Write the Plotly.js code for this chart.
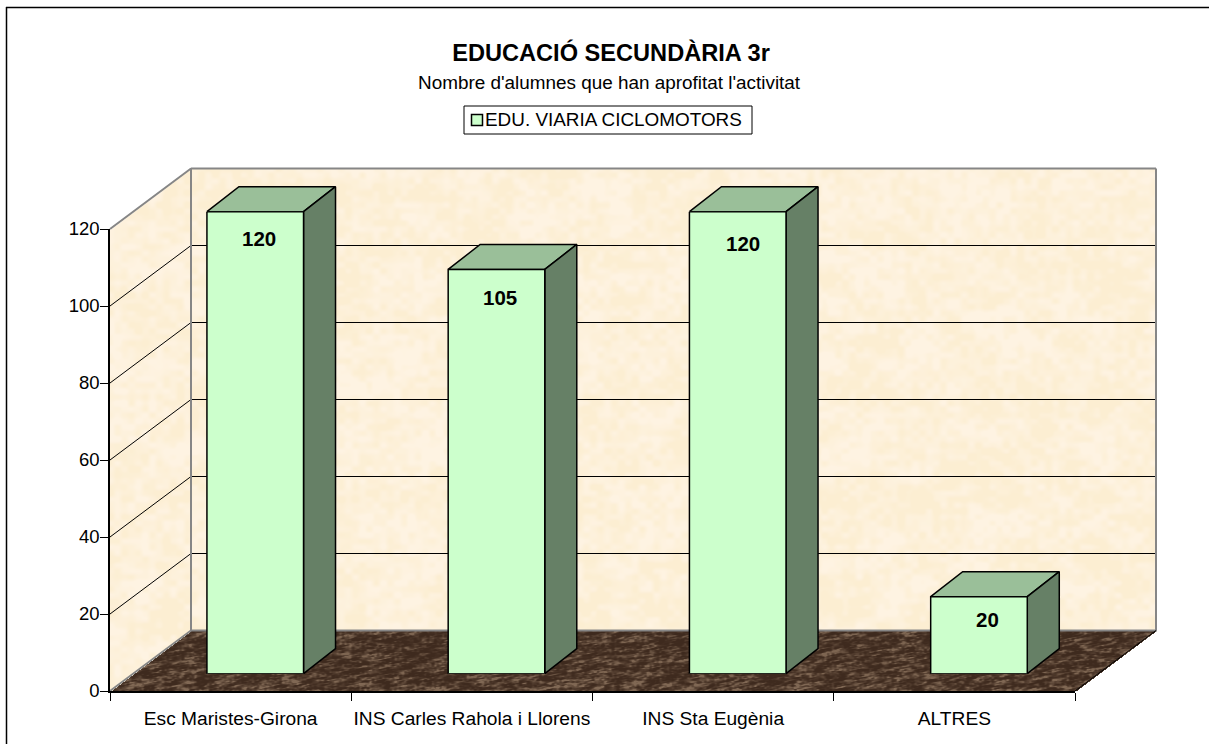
<!DOCTYPE html>
<html>
<head>
<meta charset="utf-8">
<script src="https://cdn.plot.ly/plotly-3.0.1.min.js"></script>
<style>html,body{margin:0;padding:0;background:#fff}</style>
</head>
<body>
<div id="chart" style="width:1209px;height:744px"></div>
<script>
// --- data ---
const categories = ['Esc Maristes-Girona', 'INS Carles Rahola i Llorens', 'INS Sta Eugènia', 'ALTRES'];
const alumnes = [120, 105, 120, 20];
const seriesName = 'EDU. VIARIA CICLOMOTORS';
const yTicks = [0, 20, 40, 60, 80, 100, 120];
const titleText = 'EDUCACIÓ SECUNDÀRIA 3r';
const subtitleText = "Nombre d'alumnes que han aprofitat l'activitat";

// --- geometry of the oblique 3D projection (style constants, in pixels) ---
const W = 1209, H = 744;
const L = 110, R = 1075, B = 691, T = 229;       // front plane of the axes
const depthX = 81, depthY = 60.5;                // room depth
const catPx = (R - L) / categories.length, valPx = (B - T) / 120;
const DX = depthX / catPx, DY = depthY / valPx;
const barShiftX = 24.6, barShiftY = 17.3;        // bar front face vs. front plane
const barW = 96.6, barDX = 32 / catPx, barDY = 25 / valPx; // bar depth
const barHalf = barW / 2 / catPx, shiftC = barShiftX / catPx, shiftV = barShiftY / valPx;
const dropPx = [27, 28, 32, 23], nudgePx = [4, 4, 5, 9]; // value label placement

const edge = '#868686';
const front = '#ccffcc', top_ = '#9abf99', side = '#668066';
const font = 'Liberation Sans, Arial, sans-serif';

// --- decorative surface texture of walls and floor (no data in it) ---
function hash(x, y) { const s = Math.sin(x*127.1 + y*311.7) * 43758.5453; return s - Math.floor(s); }
function vnoise(x, y) {
  const xi = Math.floor(x), yi = Math.floor(y), fx = x-xi, fy = y-yi;
  const u = fx*fx*(3-2*fx), v = fy*fy*(3-2*fy);
  const a = hash(xi,yi), b = hash(xi+1,yi), c = hash(xi,yi+1), d = hash(xi+1,yi+1);
  return a + (b-a)*u + (c-a)*v + (a-b-c+d)*u*v;
}
function mix(c1, c2, t) { return [0,1,2].map(k => c1[k] + (c2[k]-c1[k])*t); }
function makeTexture() {
  const w = R + depthX - L, h = B - (T - depthY);
  const cv = document.createElement('canvas'); cv.width = w; cv.height = h;
  const ctx = cv.getContext('2d'), im = ctx.createImageData(w, h), d = im.data;
  const kx = depthX / depthY;
  for (let py = 0; py < h; py++) {
    for (let px = 0; px < w; px++) {
      const up = h - py;                       // height above the front-left corner
      let col = null;
      if (up <= depthY) {                      // floor
        const s = up * kx;
        if (px >= s && px <= (R-L) + s) {
          const u = px + up*1.3, v = up*2.4 - px*0.5;
          const n = 0.4*vnoise(u/15, v/6) + 0.35*vnoise(u/6, v/3) + 0.25*vnoise(px/2.5, up/2);
          const t = Math.max(0, Math.min(1, (n-0.3)*2.2));
          const glow = up < 14 ? 0.35*(1-up/14) : 0;
          col = mix([62,42,30],[128,104,84], Math.min(1, t*t*0.95 + glow*t));
        }
      } else {
        const topAt = (px < depthX) ? (B-T) + px/kx : (B-T) + depthY;
        const inSide = px < depthX && up > px/kx && up <= topAt;
        const inBack = px >= depthX && up > depthY && up <= topAt;
        if (inSide || inBack) col = 1;
      }
      if (up <= depthY && col === null && px < depthX && up > px/kx) col = 1;
      if (col === 1) {                         // wall
        const n = 0.45*vnoise(px/30, py/22) + 0.55*vnoise(px/7, py/6);
        col = mix([254,243,226],[252,238,210], Math.max(0, Math.min(1, (n-0.28)*2.2)));
      }
      if (col) {
        const i = (py*w + px)*4;
        d[i] = col[0]; d[i+1] = col[1]; d[i+2] = col[2]; d[i+3] = 255;
      }
    }
  }
  ctx.putImageData(im, 0, 0);
  return {src: cv.toDataURL('image/png'), w: w, h: h};
}
const tex = makeTexture();

function poly(xs, ys, fill, extra) {
  return Object.assign({type:'scatter', mode:'lines', x:xs, y:ys, fill:'toself', fillcolor:fill,
    line:{width:0, color:fill}, hoverinfo:'skip', showlegend:false, xaxis:'x', yaxis:'y'}, extra||{});
}
function path(xs, ys, color, w) {
  return {type:'scatter', mode:'lines', x:xs, y:ys, line:{color:color, width:w},
    hoverinfo:'skip', showlegend:false, xaxis:'x', yaxis:'y', connectgaps:false};
}
const x0 = -0.5, x1 = categories.length - 0.5, yMax = yTicks[yTicks.length-1];
const traces = [];
// grid lines on the walls
const gx = [], gy = [];
yTicks.slice(1,-1).forEach(v => {
  gx.push(x0, x0+DX, x1+DX, null); gy.push(v, v+DY, v+DY, null);
});
traces.push(path(gx, gy, '#000000', 1));
// room edges
traces.push(path([x0,x0+DX,x0+DX,x1+DX,x1+DX],[yMax,yMax+DY,DY,DY,yMax+DY],edge,2));
traces.push(path([x0+DX,x1+DX],[yMax+DY,yMax+DY],edge,2));
traces.push(path([x0,x0+DX],[0,DY],edge,2));
traces.push(path([x1,x1+DX],[0,DY],'#000000',1));
// bar top and side faces
alumnes.forEach((v,i) => {
  const xl = i+shiftC-barHalf, xr = i+shiftC+barHalf, y0 = shiftV, yt = v+shiftV;
  const ln = {line:{width:1.5,color:'#000000'}};
  traces.push(poly([xl,xr,xr+barDX,xl+barDX,xl],[yt,yt,yt+barDY,yt+barDY,yt],top_,ln));
  traces.push(poly([xr,xr+barDX,xr+barDX,xr,xr],[y0,y0+barDY,yt+barDY,yt,y0],side,ln));
});
// carries the visible category axis
traces.push({type:'scatter', mode:'none', x:categories, y:alumnes, xaxis:'x2', yaxis:'y2',
  hoverinfo:'skip', showlegend:false});
// bar front faces
traces.push({type:'bar', x:categories, y:alumnes, name:seriesName, xaxis:'x3', yaxis:'y3', showlegend:false,
  marker:{color:front, line:{color:'#000000', width:1.5}}, cliponaxis:false, hoverinfo:'x+y'});

const annotations = alumnes.map((v,i) => ({
  xref:'x3', yref:'y3', x:categories[i], y:v, text:'<b>'+v+'</b>', showarrow:false,
  yanchor:'middle', xanchor:'center', xshift:nudgePx[i], yshift:-dropPx[i],
  font:{family:font, size:20.5, color:'#000'}
}));
annotations.push({xref:'paper', yref:'paper', x:609/W, y:1-82/H, xanchor:'center', yanchor:'middle',
  text:subtitleText, showarrow:false, font:{family:font, size:18.9, color:'#000'}});
// legend box
annotations.push({xref:'paper', yref:'paper', x:744/W, y:1-119.5/H, xanchor:'right', yanchor:'middle',
  text:seriesName, showarrow:false, font:{family:font, size:18.9, color:'#000'}});

const layout = {
  width:W, height:H, margin:{l:0,r:0,t:0,b:0,pad:0}, paper_bgcolor:'#fff', plot_bgcolor:'rgba(0,0,0,0)',
  font:{family:font, color:'#000'}, bargap:1-barW/catPx, hovermode:false,
  title:{text:'<b>'+titleText+'</b>', x:611/W, xanchor:'center', y:1-53/H, yanchor:'middle',
    font:{family:font, size:23.6, color:'#000'}},
  xaxis:{domain:[0,1], range:[x0 - L/catPx, x0 + (W-L)/catPx], visible:false, fixedrange:true},
  yaxis:{domain:[0,1], range:[-(H-B)/valPx, B/valPx], visible:false, fixedrange:true},
  xaxis2:{domain:[L/W,R/W], anchor:'y2', type:'category', categoryorder:'array', categoryarray:categories,
    range:[x0,x1], tickson:'boundaries', ticks:'outside', ticklen:8, tickwidth:1, tickcolor:'#000',
    tickangle:0, ticklabelstandoff:9, showline:true, linecolor:'#000', linewidth:1.5, showgrid:false, zeroline:false,
    tickfont:{family:font, size:19.2, color:'#000'}, fixedrange:true},
  yaxis2:{domain:[(H-B)/H,(H-T)/H], anchor:'x2', range:[0,yMax], tickvals:yTicks, ticks:'outside',
    ticklen:8, tickwidth:1, tickcolor:'#000', showline:true, linecolor:'#000', linewidth:1.5,
    ticklabelstandoff:-3, showgrid:false, zeroline:false, tickfont:{family:font, size:18.5, color:'#000'}, fixedrange:true},
  xaxis3:{domain:[(L+barShiftX)/W,(R+barShiftX)/W], anchor:'y3', type:'category', categoryorder:'array',
    categoryarray:categories, range:[x0,x1], visible:false, fixedrange:true},
  yaxis3:{domain:[(H-B+barShiftY)/H,(H-T+barShiftY)/H], anchor:'x3', range:[0,yMax], visible:false, fixedrange:true},
  showlegend:false,
  images:[{source:tex.src, xref:'paper', yref:'paper', x:L/W, y:1-(B-tex.h)/H, sizex:tex.w/W, sizey:tex.h/H,
    sizing:'stretch', xanchor:'left', yanchor:'top', layer:'below'}],
  shapes:[
    {type:'line', xref:'paper', yref:'paper', x0:6.5/W, x1:6.5/W, y0:0, y1:1-7/H, line:{color:'#000',width:1.5}},
    {type:'line', xref:'paper', yref:'paper', x0:6/W, x1:1, y0:1-7.5/H, y1:1-7.5/H, line:{color:'#000',width:1.5}},
    {type:'rect', xref:'paper', yref:'paper', x0:464/W, x1:752/W, y0:1-134/H, y1:1-106/H, line:{color:'#000',width:1}, fillcolor:'#fff', layer:'below'},
    {type:'rect', xref:'paper', yref:'paper', x0:471.5/W, x1:482.5/W, y0:1-125.5/H, y1:1-114.5/H, line:{color:'#000',width:1.5}, fillcolor:front}
  ],
  annotations:annotations
};
Plotly.newPlot('chart', traces, layout, {displayModeBar:false, responsive:false});
</script>
</body>
</html>
